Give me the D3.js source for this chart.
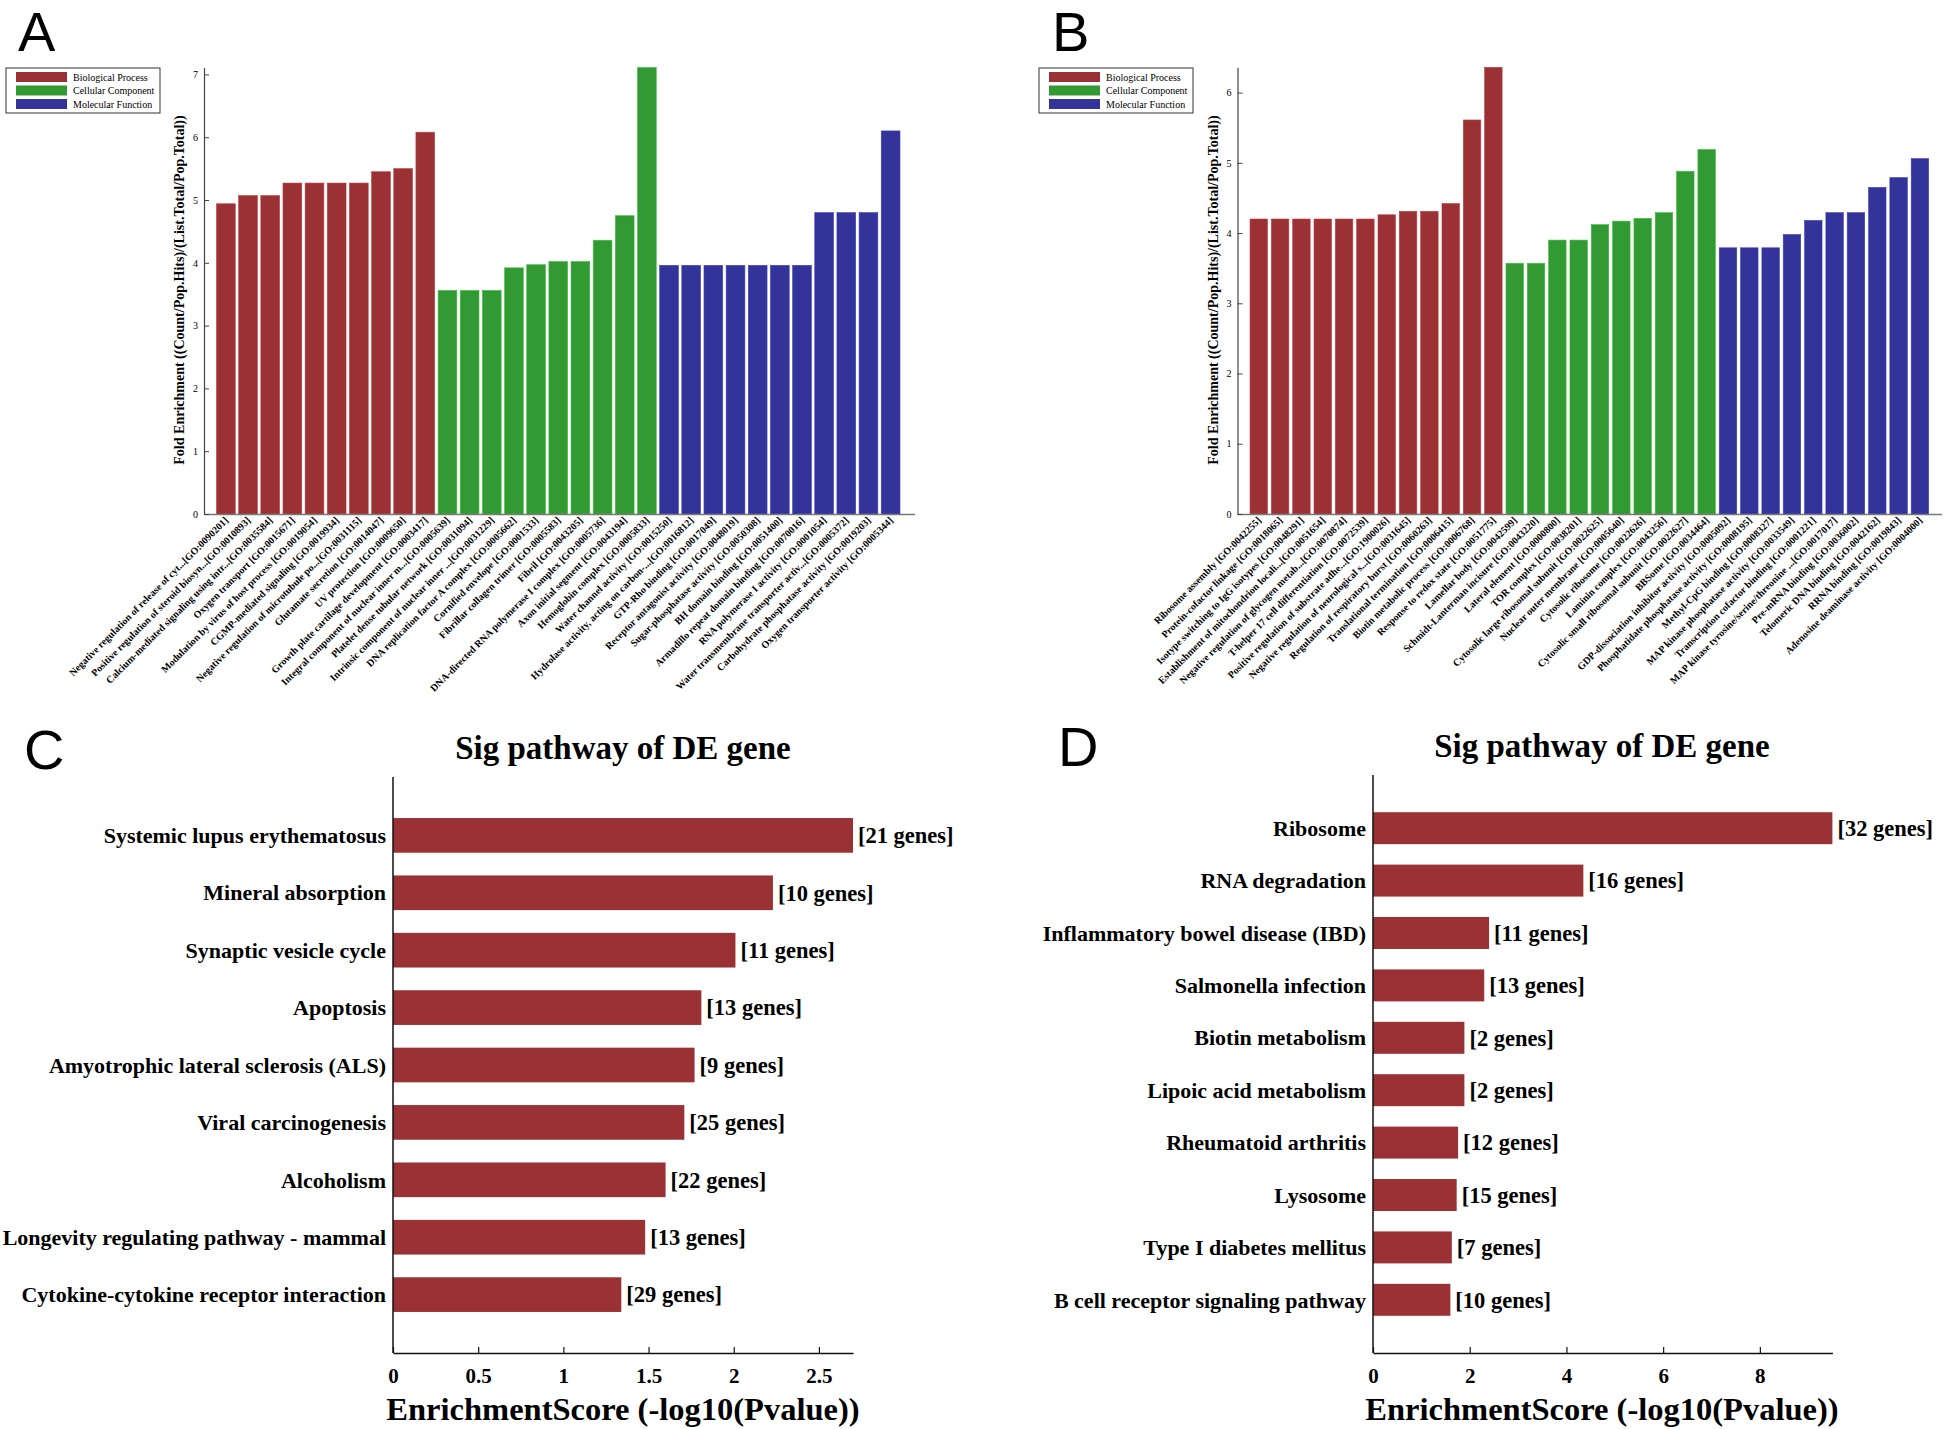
<!DOCTYPE html>
<html><head><meta charset="utf-8">
<script src="https://cdn.jsdelivr.net/npm/d3@7"></script>
<style>
body{margin:0;background:#fff}
svg{display:block}
text{font-family:"Liberation Serif","Times New Roman",serif;fill:#000}
</style>
</head><body>
<svg id="c" width="1944" height="1429"></svg>
<script>
// ---------- DATA ----------
const legendLabels = ["Biological Process","Cellular Component","Molecular Function"];
const legendKeys = ["BP","CC","MF"];

const aLabels = [
"Negative regulation of release of cyt...[GO:0090201]",
"Positive regulation of steroid biosyn...[GO:0010893]",
"Calcium-mediated signaling using intr...[GO:0035584]",
"Oxygen transport [GO:0015671]",
"Modulation by virus of host process [GO:0019054]",
"CGMP-mediated signaling [GO:0019934]",
"Negative regulation of microtubule po...[GO:0031115]",
"Glutamate secretion [GO:0014047]",
"UV protection [GO:0009650]",
"Growth plate cartilage development [GO:0003417]",
"Integral component of nuclear inner m...[GO:0005639]",
"Platelet dense tubular network [GO:0031094]",
"Intrinsic component of nuclear inner ...[GO:0031229]",
"DNA replication factor A complex [GO:0005662]",
"Cornified envelope [GO:0001533]",
"Fibrillar collagen trimer [GO:0005583]",
"Fibril [GO:0043205]",
"DNA-directed RNA polymerase I complex [GO:0005736]",
"Axon initial segment [GO:0043194]",
"Hemoglobin complex [GO:0005833]",
"Water channel activity [GO:0015250]",
"Hydrolase activity, acting on carbon-...[GO:0016812]",
"GTP-Rho binding [GO:0017049]",
"Receptor antagonist activity [GO:0048019]",
"Sugar-phosphatase activity [GO:0050308]",
"BH domain binding [GO:0051400]",
"Armadillo repeat domain binding [GO:0070016]",
"RNA polymerase I activity [GO:0001054]",
"Water transmembrane transporter activ...[GO:0005372]",
"Carbohydrate phosphatase activity [GO:0019203]",
"Oxygen transporter activity [GO:0005344]"
];
const aValues = [4.94,5.07,5.07,5.27,5.27,5.27,5.27,5.45,5.50,6.08,
                 3.56,3.56,3.56,3.92,3.97,4.02,4.02,4.36,4.75,7.11,
                 3.96,3.96,3.96,3.96,3.96,3.96,3.96,4.80,4.80,4.80,6.10];
const aTypes = ["BP","BP","BP","BP","BP","BP","BP","BP","BP","BP",
                "CC","CC","CC","CC","CC","CC","CC","CC","CC","CC",
                "MF","MF","MF","MF","MF","MF","MF","MF","MF","MF","MF"];
const aTicks = [0,1,2,3,4,5,6,7];

const bLabels = [
"Ribosome assembly [GO:0042255]",
"Protein-cofactor linkage [GO:0018065]",
"Isotype switching to IgG isotypes [GO:0048291]",
"Establishment of mitochondrion locali...[GO:0051654]",
"Negative regulation of glycogen metab...[GO:0070874]",
"T-helper 17 cell differentiation [GO:0072539]",
"Positive regulation of substrate adhe...[GO:1900026]",
"Negative regulation of neurological s...[GO:0031645]",
"Regulation of respiratory burst [GO:0060263]",
"Translational termination [GO:0006415]",
"Biotin metabolic process [GO:0006768]",
"Response to redox state [GO:0051775]",
"Lamellar body [GO:0042599]",
"Schmidt-Lanterman incisure [GO:0043220]",
"Lateral element [GO:0000800]",
"TOR complex [GO:0038201]",
"Cytosolic large ribosomal subunit [GO:0022625]",
"Nuclear outer membrane [GO:0005640]",
"Cytosolic ribosome [GO:0022626]",
"Laminin complex [GO:0043256]",
"Cytosolic small ribosomal subunit [GO:0022627]",
"BBSome [GO:0034464]",
"GDP-dissociation inhibitor activity [GO:0005092]",
"Phosphatidate phosphatase activity [GO:0008195]",
"Methyl-CpG binding [GO:0008327]",
"MAP kinase phosphatase activity [GO:0033549]",
"Transcription cofactor binding [GO:0001221]",
"MAP kinase tyrosine/serine/threonine ...[GO:0017017]",
"Pre-mRNA binding [GO:0036002]",
"Telomeric DNA binding [GO:0042162]",
"RRNA binding [GO:0019843]",
"Adenosine deaminase activity [GO:0004000]"
];
const bValues = [4.20,4.20,4.20,4.20,4.20,4.20,4.26,4.31,4.31,4.42,5.61,6.36,
                 3.57,3.57,3.90,3.90,4.12,4.17,4.21,4.29,4.88,5.19,
                 3.79,3.79,3.79,3.98,4.18,4.29,4.29,4.65,4.79,5.06];
const bTypes = ["BP","BP","BP","BP","BP","BP","BP","BP","BP","BP","BP","BP",
                "CC","CC","CC","CC","CC","CC","CC","CC","CC","CC",
                "MF","MF","MF","MF","MF","MF","MF","MF","MF","MF"];
const bTicks = [0,1,2,3,4,5,6];

const cPathways = ["Systemic lupus erythematosus","Mineral absorption","Synaptic vesicle cycle",
  "Apoptosis","Amyotrophic lateral sclerosis (ALS)","Viral carcinogenesis","Alcoholism",
  "Longevity regulating pathway - mammal","Cytokine-cytokine receptor interaction"];
const cScores = [2.70,2.23,2.01,1.81,1.77,1.71,1.60,1.48,1.34];
const cGenes = [21,10,11,13,9,25,22,13,29];
const cTicks = [0,0.5,1,1.5,2,2.5];

const dPathways = ["Ribosome","RNA degradation","Inflammatory bowel disease (IBD)","Salmonella infection",
  "Biotin metabolism","Lipoic acid metabolism","Rheumatoid arthritis","Lysosome",
  "Type I diabetes mellitus","B cell receptor signaling pathway"];
const dScores = [9.50,4.35,2.40,2.30,1.89,1.89,1.76,1.73,1.63,1.60];
const dGenes = [32,16,11,13,2,2,12,15,7,10];
const dTicks = [0,2,4,6,8];

const titleText = "Sig pathway of DE gene";
const xTitleText = "EnrichmentScore (-log10(Pvalue))";
const yTitleGO = "Fold Enrichment ((Count/Pop.Hits)/(List.Total/Pop.Total))";

// ---------- STYLE ----------
const colors = {BP:"#9a3134", CC:"#339933", MF:"#333399"};
const pathwayColor = "#9a3134";
const svg = d3.select("#c");

function panelLetter(t, x, y){
  svg.append("text").attr("x",x).attr("y",y).text(t)
    .style("font-family","'Liberation Sans',Arial,sans-serif").style("font-size","56px");
}

function drawGO(o){
  const g = svg.append("g");
  const x = d3.scaleBand().domain(d3.range(o.values.length)).range(o.xRange)
      .paddingInner(o.pi).paddingOuter(o.pi/2);
  const y = d3.scaleLinear().domain([0,o.yMax]).range([o.y0,o.yTop]);
  g.selectAll("rect.bar").data(o.values).join("rect").attr("class","bar")
    .attr("x",(d,i)=>x(i)).attr("width",x.bandwidth())
    .attr("y",d=>y(d)).attr("height",d=>o.y0-y(d))
    .attr("fill",(d,i)=>colors[o.types[i]])
    .attr("stroke",(d,i)=>d3.color(colors[o.types[i]]).brighter(0.6)).attr("stroke-width",0.6);
  g.append("line").attr("x1",o.axisX).attr("x2",o.xEnd).attr("y1",o.y0+0.5).attr("y2",o.y0+0.5)
    .attr("stroke","#777").attr("stroke-width",1.5);
  const ax = g.append("g").attr("transform",`translate(${o.axisX},0)`)
    .call(d3.axisLeft(y).tickValues(o.ticks).tickSizeInner(-5).tickSizeOuter(0).tickPadding(6).tickFormat(d3.format("d")));
  ax.select(".domain").attr("stroke","#444").attr("stroke-width",1.2);
  ax.selectAll(".tick line").attr("stroke","#444");
  ax.selectAll(".tick text").style("font-family","'Liberation Serif',serif").style("font-size","10px").attr("fill","#222");
  g.selectAll("text.xl").data(o.labels).join("text").attr("class","xl")
    .attr("transform",(d,i)=>`translate(${x(i)+x.bandwidth()/2+3},${o.y0+7}) rotate(-45)`)
    .attr("text-anchor","end").style("font-size","10px").style("font-weight","bold").text(d=>d);
  g.append("text").attr("transform",`translate(${o.yTitleX},${o.yTitleY}) rotate(-90)`)
    .attr("text-anchor","middle").style("font-size","14px").style("font-weight","bold").text(yTitleGO);
  const L = g.append("g").attr("transform",`translate(${o.legX},${o.legY})`);
  L.append("rect").attr("x",0).attr("y",0).attr("width",154).attr("height",45)
    .attr("fill","#fff").attr("stroke","#333").attr("stroke-width",1);
  legendKeys.forEach((k,i)=>{
    L.append("rect").attr("x",10).attr("y",4+i*13.5).attr("width",51).attr("height",10).attr("fill",colors[k]);
    L.append("text").attr("x",67).attr("y",12.5+i*13.5).style("font-size","10px").text(legendLabels[i]);
  });
}

function drawPathway(o){
  const g = svg.append("g");
  const x = d3.scaleLinear().domain([0,o.xMax]).range([o.axisX,o.xEnd]);
  const y = d3.scaleBand().domain(d3.range(o.names.length)).range([o.yTop,o.y0])
      .paddingInner(o.pi).paddingOuter(o.po);
  g.selectAll("rect").data(o.scores).join("rect")
    .attr("x",o.axisX).attr("y",(d,i)=>y(i)).attr("height",y.bandwidth())
    .attr("width",d=>x(d)-o.axisX).attr("fill",pathwayColor);
  g.append("line").attr("x1",o.axisX).attr("x2",o.axisX).attr("y1",o.yTop).attr("y2",o.y0)
    .attr("stroke","#111").attr("stroke-width",1.5);
  const ax = g.append("g").attr("transform",`translate(0,${o.y0})`)
    .call(d3.axisBottom(x).tickValues(o.ticks).tickSizeInner(-6).tickSizeOuter(0).tickPadding(15).tickFormat(d3.format("~g")));
  ax.select(".domain").attr("stroke","#111").attr("stroke-width",1.5);
  ax.selectAll(".tick line").attr("stroke","#111").attr("stroke-width",1.2);
  ax.selectAll(".tick text").style("font-family","'Liberation Serif',serif").style("font-size","21px")
    .style("font-weight","bold").attr("fill","#000");
  g.selectAll("text.cat").data(o.names).join("text").attr("class","cat")
    .attr("x",o.axisX-7).attr("y",(d,i)=>y(i)+y.bandwidth()/2).attr("dy","0.35em")
    .attr("text-anchor","end").style("font-size","22px").style("font-weight","bold").text(d=>d);
  g.selectAll("text.gn").data(o.scores).join("text").attr("class","gn")
    .attr("x",d=>x(d)+5).attr("y",(d,i)=>y(i)+y.bandwidth()/2).attr("dy","0.35em")
    .style("font-size","22.5px").style("font-weight","bold").text((d,i)=>`[${o.genes[i]} genes]`);
  g.append("text").attr("x",o.titleX).attr("y",o.titleY).attr("text-anchor","middle")
    .style("font-size","33px").style("font-weight","bold").text(titleText);
  g.append("text").attr("x",o.titleX).attr("y",o.xTitleY).attr("text-anchor","middle")
    .style("font-size","32.5px").style("font-weight","bold").text(xTitleText);
}

// ---------- PANELS ----------
panelLetter("A",18,51);
drawGO({values:aValues,types:aTypes,labels:aLabels,ticks:aTicks,
  xRange:[214.8,901.7],pi:0.154,y0:514,yTop:67.5,yMax:7.11,axisX:204,xEnd:915,
  yTitleX:184,yTitleY:290,legX:6,legY:68});

panelLetter("B",1052,51);
drawGO({values:bValues,types:bTypes,labels:bLabels,ticks:bTicks,
  xRange:[1248.1,1930.6],pi:0.18,y0:514,yTop:67.3,yMax:6.36,axisX:1237.5,xEnd:1942,
  yTitleX:1218,yTitleY:290,legX:1039,legY:68});

panelLetter("C",24,769);
drawPathway({names:cPathways,scores:cScores,genes:cGenes,ticks:cTicks,
  xMax:2.70,axisX:393,xEnd:853,yTop:777,y0:1353,pi:0.396,po:0.715,
  titleX:623,titleY:759,xTitleY:1420});

panelLetter("D",1058,766);
drawPathway({names:dPathways,scores:dScores,genes:dGenes,ticks:dTicks,
  xMax:9.50,axisX:1373,xEnd:1832.4,yTop:775,y0:1353,pi:0.39,po:0.71,
  titleX:1602,titleY:757,xTitleY:1420});
</script>
</body></html>
